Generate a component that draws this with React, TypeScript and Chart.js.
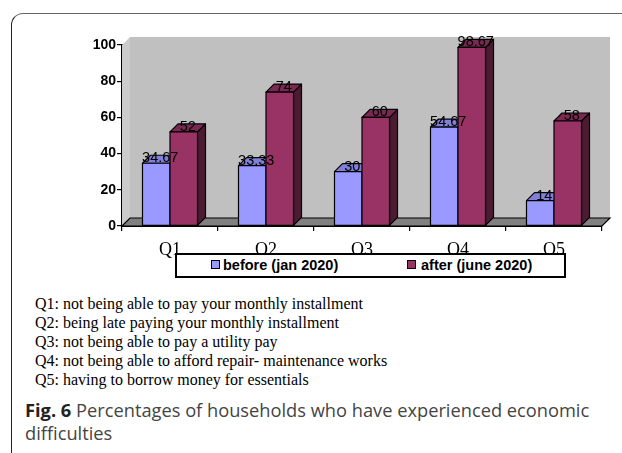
import React, { useEffect, useRef } from "react";
import { Chart, registerables } from "chart.js";

Chart.register(...registerables);

const categories = ["Q1", "Q2", "Q3", "Q4", "Q5"];
const beforeValues = [34.67, 33.33, 30, 54.67, 14];
const afterValues = [52, 74, 60, 98.67, 58];
const seriesNames = ["before (jan 2020)", "after (june 2020)"];
const yMin = 0;
const yMax = 100;
const yStep = 20;
const notes = [
  "Q1: not being able to pay your monthly installment",
  "Q2: being late paying your monthly installment",
  "Q3: not being able to pay a utility pay",
  "Q4: not being able to afford repair- maintenance works",
  "Q5: having to borrow money for essentials",
];
const captionLabel = "Fig. 6";
const captionLine1 = "Percentages of households who have experienced economic";
const captionLine2 = "difficulties";

const FRONT = ["#9999ff", "#993366"];
const TOP = ["#8080d8", "#7a2952"];
const SIDE = ["#6a6ab8", "#4d1a33"];
const DEPTH = 8;

const threeD = {
  id: "threeD",
  beforeDatasetsDraw(chart: any) {
    const { ctx, chartArea: a } = chart;
    const d = DEPTH;
    ctx.save();
    ctx.fillStyle = "#c0c0c0";
    ctx.fillRect(a.left + d, a.top - d, a.right - a.left, a.bottom - a.top);
    ctx.fillStyle = "#cbcbcb";
    ctx.beginPath();
    ctx.moveTo(a.left, a.top);
    ctx.lineTo(a.left + d, a.top - d);
    ctx.lineTo(a.left + d, a.bottom - d);
    ctx.lineTo(a.left, a.bottom);
    ctx.closePath();
    ctx.fill();
    ctx.fillStyle = "#808080";
    ctx.strokeStyle = "#000";
    ctx.lineWidth = 1.2;
    ctx.beginPath();
    ctx.moveTo(a.left, a.bottom);
    ctx.lineTo(a.left + d, a.bottom - d);
    ctx.lineTo(a.right + d, a.bottom - d);
    ctx.lineTo(a.right, a.bottom);
    ctx.closePath();
    ctx.fill();
    ctx.stroke();
    ctx.restore();
  },
  beforeDatasetDraw() {
    return false;
  },
  afterDatasetsDraw(chart: any) {
    const { ctx } = chart;
    const d = DEPTH;
    const metas = chart.data.datasets.map((_: any, i: number) => chart.getDatasetMeta(i));
    ctx.save();
    ctx.strokeStyle = "#000";
    ctx.lineWidth = 1.2;
    ctx.lineJoin = "round";
    for (let c = 0; c < categories.length; c++) {
      metas.forEach((meta: any, s: number) => {
        const el = meta.data[c];
        if (!el) return;
        const { x, y, base, width } = el.getProps(["x", "y", "base", "width"], true);
        const l = x - width / 2;
        const r = x + width / 2;
        ctx.fillStyle = SIDE[s];
        ctx.beginPath();
        ctx.moveTo(r, base);
        ctx.lineTo(r + d, base - d);
        ctx.lineTo(r + d, y - d);
        ctx.lineTo(r, y);
        ctx.closePath();
        ctx.fill();
        ctx.stroke();
        ctx.fillStyle = TOP[s];
        ctx.beginPath();
        ctx.moveTo(l, y);
        ctx.lineTo(l + d, y - d);
        ctx.lineTo(r + d, y - d);
        ctx.lineTo(r, y);
        ctx.closePath();
        ctx.fill();
        ctx.stroke();
        ctx.fillStyle = FRONT[s];
        ctx.fillRect(l, y, width, base - y);
        ctx.strokeRect(l, y, width, base - y);
      });
    }
    ctx.fillStyle = "#000";
    ctx.font = "14.5px 'Liberation Sans', Arial, sans-serif";
    ctx.textAlign = "center";
    ctx.textBaseline = "middle";
    metas.forEach((meta: any, s: number) => {
      meta.data.forEach((el: any, i: number) => {
        const { x, y } = el.getProps(["x", "y"], true);
        const v = chart.data.datasets[s].data[i];
        ctx.fillText(String(v), x + d / 2, y - 5);
      });
    });
    ctx.restore();
  },
};

function ChartCanvas() {
  const ref = useRef<HTMLCanvasElement | null>(null);
  useEffect(() => {
    if (!ref.current) return;
    const chart = new Chart(ref.current, {
      type: "bar",
      data: {
        labels: categories,
        datasets: [
          { label: seriesNames[0], data: beforeValues, backgroundColor: FRONT[0], borderColor: "#000", borderWidth: 1 },
          { label: seriesNames[1], data: afterValues, backgroundColor: FRONT[1], borderColor: "#000", borderWidth: 1 },
        ],
      },
      options: {
        responsive: false,
        animation: false,
        layout: { padding: { top: 45, right: 20, left: 0, bottom: 0 } },
        plugins: { legend: { display: false }, tooltip: { enabled: false } },
        datasets: { bar: { barPercentage: 1, categoryPercentage: 0.573 } },
        scales: {
          x: {
            offset: true,
            grid: { offset: true, drawOnChartArea: false, tickLength: 5, color: "#000", tickColor: "#000", lineWidth: 1.2 },
            border: { color: "#000", width: 2 },
            ticks: { color: "#000", font: { family: "'Liberation Serif', 'Times New Roman', serif", size: 18 }, padding: 8 },
            afterFit: (scale: any) => {
              scale.height = 64;
            },
          },
          y: {
            min: yMin,
            max: yMax,
            grid: { drawOnChartArea: false, tickLength: 5, color: "#000", tickColor: "#000", lineWidth: 1.2 },
            border: { color: "#000", width: 2 },
            ticks: {
              stepSize: yStep,
              color: "#000",
              font: { family: "'Liberation Sans', Arial, sans-serif", size: 14, weight: "bold" },
              padding: 1,
            },
            afterFit: (scale: any) => {
              scale.width = 122;
            },
          },
        },
      },
      plugins: [threeD],
    });
    return () => chart.destroy();
  }, []);
  return <canvas ref={ref} width={622} height={290} style={{ position: "absolute", left: 0, top: 0 }} />;
}

export default function App() {
  const sq = (c: string, left: number) => (
    <div
      style={{
        position: "absolute",
        left,
        top: 5,
        width: 9,
        height: 9,
        background: c,
        border: "1px solid #000",
        boxSizing: "border-box",
      }}
    />
  );
  const legText = (t: string, left: number) => (
    <div
      style={{
        position: "absolute",
        left,
        top: 1,
        fontFamily: "'Liberation Sans', Arial, sans-serif",
        fontWeight: "bold",
        fontSize: 14.5,
        lineHeight: "18px",
        color: "#000",
        whiteSpace: "nowrap",
      }}
    >
      {t}
    </div>
  );
  return (
    <div
      style={{
        position: "fixed",
        left: 0,
        top: 0,
        width: 622,
        height: 453,
        overflow: "hidden",
        background: "#fff",
      }}
    >
      <div
        style={{
          position: "absolute",
          left: 11,
          top: 13,
          width: 800,
          height: 600,
          borderTop: "1px solid #666",
          borderLeft: "1.5px solid #222",
          borderTopLeftRadius: 12,
        }}
      />
      <ChartCanvas />
      <div
        style={{
          position: "absolute",
          left: 175,
          top: 253,
          width: 391,
          height: 25,
          border: "2px solid #000",
          boxSizing: "border-box",
          background: "#fff",
        }}
      >
        {sq(FRONT[0], 34)}
        {legText(seriesNames[0], 46)}
        {sq(FRONT[1], 230)}
        {legText(seriesNames[1], 244)}
      </div>
      <div
        style={{
          position: "absolute",
          left: 35,
          top: 294,
          fontFamily: "'Liberation Serif', 'Times New Roman', serif",
          fontSize: 16,
          lineHeight: "19px",
          color: "#000",
          whiteSpace: "nowrap",
        }}
      >
        {notes.map((n) => (
          <div key={n}>{n}</div>
        ))}
      </div>
      <div
        style={{
          position: "absolute",
          left: 25,
          top: 398,
          fontFamily: "'Open Sans', 'Noto Sans', sans-serif",
          fontSize: 18.25,
          fontWeight: 400,
          lineHeight: "23px",
          color: "#444",
          whiteSpace: "nowrap",
        }}
      >
        <div>
          <span style={{ fontWeight: "bold", color: "#222" }}>{captionLabel}</span>
          <span>{"  " + captionLine1}</span>
        </div>
        <div>{captionLine2}</div>
      </div>
    </div>
  );
}
